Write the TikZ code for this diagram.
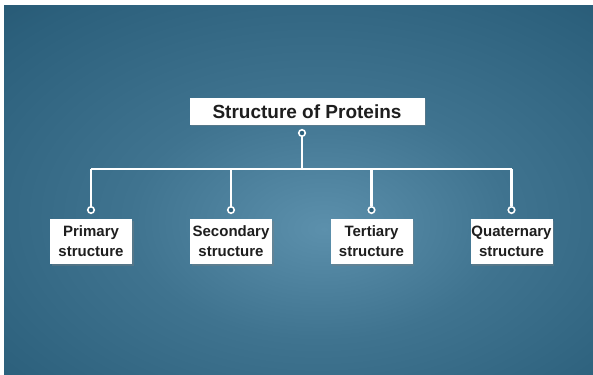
\documentclass[tikz,border=0pt]{standalone}
\usepackage{fontspec}
\setmainfont{Liberation Sans}
\usetikzlibrary{calc,positioning,shadows}

\definecolor{bgdark}{RGB}{28,74,100}
\definecolor{bgmid}{RGB}{44,96,124}
\definecolor{bglight}{RGB}{92,144,172}
\definecolor{inkgray}{RGB}{30,30,30}

\pgfdeclareradialshading{bgglow}{\pgfpoint{2bp}{-5bp}}{%
  color(0bp)=(bglight); color(16bp)=(bgmid!60!bglight); color(34bp)=(bgmid);
  color(50bp)=(bgdark); color(70bp)=(bgdark)}

\begin{document}
\begin{tikzpicture}[x=1pt,y=1pt,
title/.style={rectangle, fill=white, text=inkgray, font=\bfseries\fontsize{19}{22}\selectfont,
  minimum width=235pt, minimum height=27pt, inner sep=0pt,
  drop shadow={shadow xshift=1.5pt, shadow yshift=-1.5pt, opacity=0.35}},
part/.style={rectangle, fill=white, text=inkgray, font=\bfseries\fontsize{15}{20}\selectfont,
  align=center, minimum width=82pt, minimum height=45pt, inner sep=0pt,
  drop shadow={shadow xshift=1.5pt, shadow yshift=-1.5pt, opacity=0.35}},
link/.style={draw=white, line width=2.4pt},
dot/.style={circle, draw=white, line width=1.6pt, fill=bgmid, minimum size=6.5pt, inner sep=0pt}]

%% canvas
\useasboundingbox (0,0) rectangle (593,-374);
\fill[white] (0,0) rectangle (593,-374);
\shade[shading=bgglow] (4,-6) rectangle (597,-378);

%% local variables
\def \rowy {-241.5}
\def \bary {-169}
\def \doty {-210}

%% boxes
\node[title] (title) at (307,-111.5) {Structure of Proteins};
\node[part] (primary)    at (91,\rowy)    {Primary\\structure};
\node[part] (secondary)  at (231,\rowy)   {Secondary\\structure};
\node[part] (tertiary)   at (371.5,\rowy) {Tertiary\\structure};
\node[part] (quaternary) at (511.5,\rowy) {Quaternary\\structure};

%% junction points
\coordinate (hub) at (302,\bary);
\node[dot] (d-top) at (302,-133) {};
\foreach \n in {primary,secondary,tertiary,quaternary} {
      \coordinate (b-\n) at (\n.north |- hub);
      \node[dot] (d-\n) at (\n.north |- 0,\doty) {};
}

%% connectors
\draw[link] (d-top) -- (hub);
\draw[link] (b-primary) -- (b-quaternary);
\foreach \n in {primary,secondary,tertiary,quaternary}
      \draw[link] (b-\n) -- (d-\n);

\end{tikzpicture}
\end{document}
